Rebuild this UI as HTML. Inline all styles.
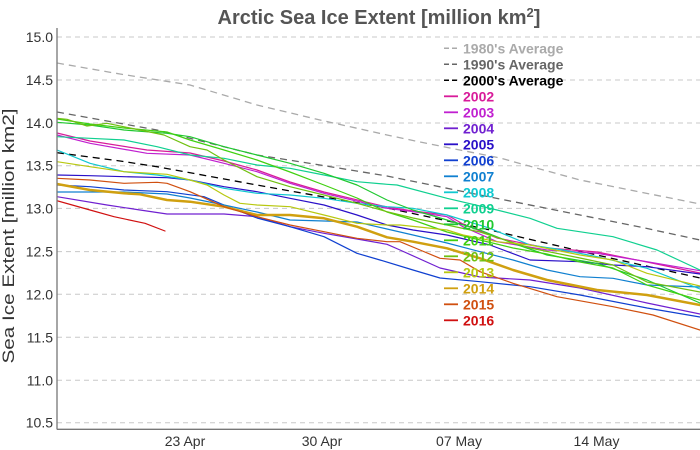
<!DOCTYPE html>
<html>
<head>
<meta charset="utf-8">
<style>
html,body{margin:0;padding:0;background:#fff;}
svg{display:block;}
text{font-family:"Liberation Sans",Arial,sans-serif;}
</style>
</head>
<body>
<svg width="700" height="450" viewBox="0 0 700 450" xmlns="http://www.w3.org/2000/svg">
<defs>
<clipPath id="pc"><rect x="57" y="28" width="643" height="401"/></clipPath>
</defs>
<rect width="700" height="450" fill="#fff"/>

<!-- gridlines -->
<g stroke="#c8c8c8" stroke-width="1" stroke-dasharray="5,4" fill="none">
<line x1="57" x2="700" y1="37" y2="37"/>
<line x1="57" x2="700" y1="80" y2="80"/>
<line x1="57" x2="700" y1="123" y2="123"/>
<line x1="57" x2="700" y1="165.7" y2="165.7"/>
<line x1="57" x2="700" y1="208.4" y2="208.4"/>
<line x1="57" x2="700" y1="251.6" y2="251.6"/>
<line x1="57" x2="700" y1="294.3" y2="294.3"/>
<line x1="57" x2="700" y1="337.3" y2="337.3"/>
<line x1="57" x2="700" y1="380.3" y2="380.3"/>
<line x1="57" x2="700" y1="422.7" y2="422.7"/>
</g>

<!-- y tick labels -->
<g font-size="14" fill="#333" text-anchor="end">
<text x="53" y="42">15.0</text>
<text x="53" y="85">14.5</text>
<text x="53" y="128">14.0</text>
<text x="53" y="170.7">13.5</text>
<text x="53" y="213.4">13.0</text>
<text x="53" y="256.6">12.5</text>
<text x="53" y="299.3">12.0</text>
<text x="53" y="342.3">11.5</text>
<text x="53" y="385.3">11.0</text>
<text x="53" y="427.7">10.5</text>
</g>

<!-- x tick labels -->
<g font-size="14" fill="#333" text-anchor="middle">
<text x="185" y="446">23 Apr</text>
<text x="322" y="446">30 Apr</text>
<text x="459" y="446">07 May</text>
<text x="596.5" y="446">14 May</text>
</g>

<!-- y axis title -->
<text transform="translate(14,236) rotate(-90)" font-size="17" fill="#333" text-anchor="middle" textLength="255" lengthAdjust="spacingAndGlyphs">Sea Ice Extent [million km2]</text>

<!-- title -->
<text x="379" y="24" font-size="20" font-weight="bold" fill="#555" text-anchor="middle">Arctic Sea Ice Extent [million km<tspan dy="-7" font-size="13">2</tspan><tspan dy="7">]</tspan></text>

<!-- series -->
<g clip-path="url(#pc)" fill="none" stroke-linejoin="round" stroke-linecap="round">
<polyline stroke="#aaaaaa" stroke-width="1.3" stroke-dasharray="7,5" stroke-linecap="butt" points="57,63 120,74 190,85 257,105 320,120 387,135 420,142 500,158 580,180 640,192 700,204"/>
<polyline stroke="#666666" stroke-width="1.3" stroke-dasharray="7,5" stroke-linecap="butt" points="57,112 157,130 257,155 320,165 387,176 480,195 580,215 640,227 700,240"/>
<polyline stroke="#000000" stroke-width="1.3" stroke-dasharray="7,5" stroke-linecap="butt" points="57,152.7 120,161 157,166.7 257,185 324,197 387,208 490,230 597,255 700,278"/>

<polyline stroke="#d81b9a" stroke-width="1.2" points="57,133 90,141 147,150 190,153 224,161 257,170 290,182 324,192 387,207 413,211 447,215 463,224 497,238 547,248 597,252 647,262 700,273"/>
<polyline stroke="#c020d0" stroke-width="1.2" points="57,135 90,143.3 147,153.3 190,155 224,163.3 257,171.7 290,183.3 324,193.3 387,208.3 413,211.7 447,216.7 463,226.7 497,241.7 547,250 597,253.3 647,261.7 700,270.7"/>
<polyline stroke="#7020d0" stroke-width="1.2" points="57,196.7 107,205 140,210 167,214 224,214 257,216.7 290,226.7 324,233.3 357,239 387,244.3 400,250 440,268 480,277 530,280 580,288 647,303 700,314"/>
<polyline stroke="#2a10c8" stroke-width="1.2" points="57,175 90,175.7 124,176.7 167,177.7 190,180 224,186.7 257,191.7 290,198.3 324,205 357,215 387,225 413,230 447,235 490,245 530,260 580,261.7 613,265 647,266.7 700,274"/>
<polyline stroke="#1040d0" stroke-width="1.2" points="57,185 90,186.7 124,190 167,191.7 204,196.7 224,205 257,218 290,226.7 324,236.7 357,253.3 380,260 413,270 440,278 480,281.7 530,286.7 580,295 647,308 700,317"/>
<polyline stroke="#1080d0" stroke-width="1.2" points="57,192 90,192 124,192 167,194 190,198 224,205 257,212 290,220 324,221 357,222 387,229 413,235 447,243 480,251.7 513,260 547,270 580,276.7 613,278.3 647,285 700,287"/>
<polyline stroke="#10c8d0" stroke-width="1.2" points="57,150 90,163.3 124,171.7 157,175 190,180 224,188.3 257,193.3 290,195 324,198.3 357,203.3 387,206.7 413,208.3 447,215 490,228.3 530,245 563,250 597,256.7 647,268.3 700,289"/>
<polyline stroke="#10d090" stroke-width="1.2" points="57,136.7 90,138.3 124,140 157,146.7 190,155 224,158.3 257,165 290,168.3 324,175 357,181.7 387,184.3 397,185 447,198.3 497,210 530,218.3 557,228.3 613,236.7 657,250 700,270"/>
<polyline stroke="#20c830" stroke-width="1.2" points="57,122.3 90,125 124,130 167,133.3 190,136.7 224,146.7 257,155 290,163.3 324,173.3 357,185 387,200 413,210 447,220 480,230 513,243.3 547,255 597,263.3 647,280 700,303"/>
<polyline stroke="#40d010" stroke-width="1.2" points="57,119 90,124 124,128 167,132 190,140 224,150 257,160 290,172 324,185 357,198 387,212 413,220 447,232 480,240 513,248 547,254 580,262 613,268 647,285 700,300"/>
<polyline stroke="#70c010" stroke-width="1.2" points="57,118.3 67,119.3 87,126 107,123.3 140,130 164,135 190,146.7 207,150 224,160 257,176.7 290,186.7 324,195 357,203.3 387,211.7 413,218 447,225 480,232 530,248 580,258 613,265 647,282 700,292"/>
<polyline stroke="#b8c810" stroke-width="1.2" points="57,161.7 90,166.7 124,171.7 167,174.3 190,180 207,185 224,195 240,203.3 257,205 290,206.7 324,215 357,223.3 387,225 400,225 447,230 463,235 497,241.7 530,245 580,255 613,260 647,273.3 700,286"/>
<polyline stroke="#d0a010" stroke-width="2.5" points="57,184 90,190 124,193.3 140,194.3 167,200 190,201.7 224,206.7 257,215 290,215 324,218.3 357,226.7 387,237.3 413,241.7 447,248.3 480,258.3 513,270 547,280 597,290 647,295 700,305"/>
<polyline stroke="#d05010" stroke-width="1.2" points="57,178.3 90,180 124,183.3 157,182.3 167,183.3 190,191.7 224,206.7 257,216.7 290,225 324,231.7 357,238.3 387,241.7 400,241.7 420,250 440,258.3 460,260 480,271.7 513,283.3 557,296.7 613,306.7 653,315 700,330"/>
<polyline stroke="#d01010" stroke-width="1.2" points="57,200.7 90,210 114,216.7 145,223.3 165,231"/>
</g>

<!-- axes -->
<line x1="57" y1="28" x2="57" y2="429.5" stroke="#777" stroke-width="1.3"/>
<line x1="57" y1="429.3" x2="700" y2="429.3" stroke="#777" stroke-width="1.3"/>

<!-- legend -->
<g font-size="14" font-weight="bold">
<line x1="444" x2="458" y1="48.3" y2="48.3" stroke="#aaaaaa" stroke-width="1.5" stroke-dasharray="5,3"/>
<text x="463" y="53.3" fill="#aaaaaa">1980's Average</text>
<line x1="444" x2="458" y1="64.3" y2="64.3" stroke="#666666" stroke-width="1.5" stroke-dasharray="5,3"/>
<text x="463" y="69.3" fill="#666666">1990's Average</text>
<line x1="444" x2="458" y1="80.3" y2="80.3" stroke="#000000" stroke-width="1.5" stroke-dasharray="5,3"/>
<text x="463" y="85.3" fill="#000000">2000's Average</text>

<line x1="444" x2="458" y1="96.3" y2="96.3" stroke="#d81b9a" stroke-width="1.8"/>
<text x="463" y="101.3" fill="#d81b9a">2002</text>
<line x1="444" x2="458" y1="112.3" y2="112.3" stroke="#c020d0" stroke-width="1.8"/>
<text x="463" y="117.3" fill="#c020d0">2003</text>
<line x1="444" x2="458" y1="128.3" y2="128.3" stroke="#7020d0" stroke-width="1.8"/>
<text x="463" y="133.3" fill="#7020d0">2004</text>
<line x1="444" x2="458" y1="144.3" y2="144.3" stroke="#2a10c8" stroke-width="1.8"/>
<text x="463" y="149.3" fill="#2a10c8">2005</text>
<line x1="444" x2="458" y1="160.3" y2="160.3" stroke="#1040d0" stroke-width="1.8"/>
<text x="463" y="165.3" fill="#1040d0">2006</text>
<line x1="444" x2="458" y1="176.3" y2="176.3" stroke="#1080d0" stroke-width="1.8"/>
<text x="463" y="181.3" fill="#1080d0">2007</text>
<line x1="444" x2="458" y1="192.3" y2="192.3" stroke="#10c8d0" stroke-width="1.8"/>
<text x="463" y="197.3" fill="#10c8d0">2008</text>
<line x1="444" x2="458" y1="208.3" y2="208.3" stroke="#10d090" stroke-width="1.8"/>
<text x="463" y="213.3" fill="#10d090">2009</text>
<line x1="444" x2="458" y1="224.3" y2="224.3" stroke="#20c830" stroke-width="1.8"/>
<text x="463" y="229.3" fill="#20c830">2010</text>
<line x1="444" x2="458" y1="240.3" y2="240.3" stroke="#40d010" stroke-width="1.8"/>
<text x="463" y="245.3" fill="#40d010">2011</text>
<line x1="444" x2="458" y1="256.3" y2="256.3" stroke="#70c010" stroke-width="1.8"/>
<text x="463" y="261.3" fill="#70c010">2012</text>
<line x1="444" x2="458" y1="272.3" y2="272.3" stroke="#b8c810" stroke-width="1.8"/>
<text x="463" y="277.3" fill="#b8c810">2013</text>
<line x1="444" x2="458" y1="288.3" y2="288.3" stroke="#d0a010" stroke-width="1.8"/>
<text x="463" y="293.3" fill="#d0a010">2014</text>
<line x1="444" x2="458" y1="304.3" y2="304.3" stroke="#d05010" stroke-width="1.8"/>
<text x="463" y="309.3" fill="#d05010">2015</text>
<line x1="444" x2="458" y1="320.3" y2="320.3" stroke="#d01010" stroke-width="1.8"/>
<text x="463" y="325.3" fill="#d01010">2016</text>
</g>
</svg>
</body>
</html>
